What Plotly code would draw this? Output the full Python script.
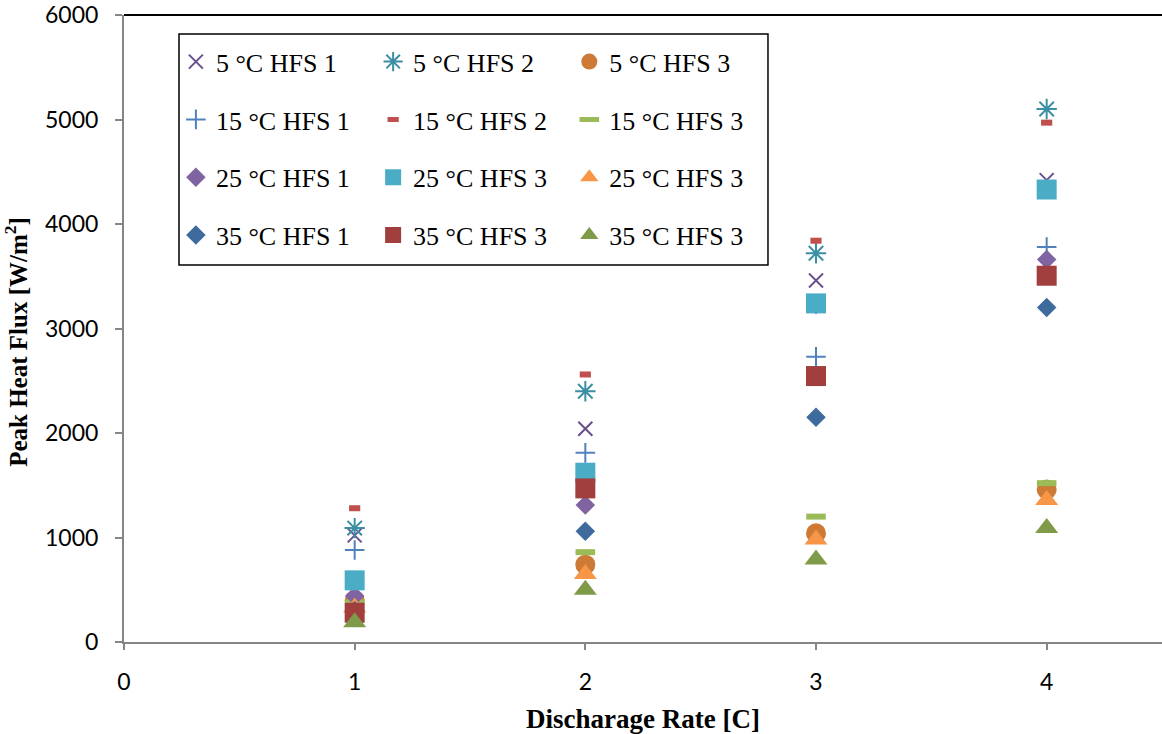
import plotly.graph_objects as go

# Discharge rates [C]
rate = [1, 2, 3, 4]

# Peak heat flux [W/m2] per ambient temperature and heat flux sensor
hfs_5_1 = [1020, 2040, 3460, 4420]
hfs_5_2 = [1090, 2400, 3720, 5100]
hfs_5_3 = [400, 740, 1040, 1460]
hfs_15_1 = [880, 1810, 2730, 3780]
hfs_15_2 = [1280, 2560, 3840, 4970]
hfs_15_3 = [380, 860, 1200, 1520]
hfs_25_1 = [440, 1310, 3230, 3660]
hfs_25_3a = [590, 1620, 3240, 4330]
hfs_25_3b = [330, 650, 980, 1360]
hfs_35_1 = [300, 1060, 2150, 3200]
hfs_35_3a = [280, 1470, 2545, 3505]
hfs_35_3b = [190, 500, 790, 1090]

x_ticks = [0, 1, 2, 3, 4]
y_ticks = [0, 1000, 2000, 3000, 4000, 5000, 6000]

# name, values, symbol, size, fill colour, line colour, line width, legend column
series = [
    ("5 °C HFS 1", hfs_5_1, "x-thin", 14, "#6A4F8E", "#6A4F8E", 2, "legend"),
    ("5 °C HFS 2", hfs_5_2, "asterisk", 17, "#3B8FA5", "#3B8FA5", 2, "legend2"),
    ("5 °C HFS 3", hfs_5_3, "circle", 20, "#CC7A35", "#CC7A35", 0, "legend3"),
    ("15 °C HFS 1", hfs_15_1, "cross-thin", 14, "#4F81BD", "#4F81BD", 2, "legend"),
    ("15 °C HFS 2", hfs_15_2, "line-ew", 8, "#C0504D", "#C0504D", 6, "legend2"),
    ("15 °C HFS 3", hfs_15_3, "line-ew", 14, "#9BBB59", "#9BBB59", 6, "legend3"),
    ("25 °C HFS 1", hfs_25_1, "diamond", 15, "#8064A2", "#8064A2", 0, "legend"),
    ("25 °C HFS 3", hfs_25_3a, "square", 20, "#4BACC6", "#4BACC6", 0, "legend2"),
    ("25 °C HFS 3", hfs_25_3b, "triangle-up", 20, "#F79646", "#F79646", 0, "legend3"),
    ("35 °C HFS 1", hfs_35_1, "diamond", 15, "#3E6A9E", "#3E6A9E", 0, "legend"),
    ("35 °C HFS 3", hfs_35_3a, "square", 20, "#A03F3D", "#A03F3D", 0, "legend2"),
    ("35 °C HFS 3", hfs_35_3b, "triangle-up", 20, "#7F9B49", "#7F9B49", 0, "legend3"),
]

fig = go.Figure()
for i, (name, vals, sym, size, fill, edge, lw, leg) in enumerate(series):
    fig.add_trace(go.Scatter(
        x=rate, y=vals, mode="markers", name=name,
        legend=leg, legendgroup=f"g{i}",
        marker=dict(symbol=sym, size=size, color=fill,
                    line=dict(color=edge, width=lw)),
    ))

legend_font = dict(family="Liberation Serif", size=26, color="black")
legend_common = dict(
    font=legend_font, bgcolor="rgba(0,0,0,0)", borderwidth=0,
    orientation="v", tracegroupgap=21, yanchor="top", xanchor="left",
    y=0.963, itemsizing="trace",
)

title_font = dict(family="Liberation Serif", size=27, color="black")

fig.update_layout(
    width=1162, height=734,
    margin=dict(l=124, r=0, t=15, b=92),
    paper_bgcolor="white", plot_bgcolor="white",
    showlegend=True,
    legend=dict(x=0.050, **legend_common),
    legend2=dict(x=0.2400, **legend_common),
    legend3=dict(x=0.4290, **legend_common),
    xaxis=dict(
        range=[0, 4.5], tickvals=x_ticks, ticktext=[str(v) for v in x_ticks],
        showgrid=False, zeroline=False, showline=True,
        linecolor="#868686", linewidth=2,
        ticks="outside", ticklen=6, tickwidth=2, tickcolor="#868686",
        tickfont=dict(family="Lato", size=23, color="black"),
        ticklabelstandoff=12,
        title=dict(text="<b>Discharage Rate [C]</b>", standoff=18,
                   font=title_font),
    ),
    yaxis=dict(
        range=[0, 6000], tickvals=y_ticks, ticktext=[str(v) for v in y_ticks],
        showgrid=False, zeroline=False, showline=True,
        linecolor="#868686", linewidth=2,
        ticks="outside", ticklen=7, tickwidth=2, tickcolor="#868686",
        tickfont=dict(family="Lato", size=23, color="black"),
        ticklabelstandoff=12,
    ),
    annotations=[
        dict(text="<b>Peak Heat Flux [W/m<sup>2</sup>]</b>", textangle=-90,
             xref="paper", yref="paper", x=-0.1035, y=0.478,
             xanchor="center", yanchor="middle", showarrow=False,
             font=dict(family="Liberation Serif", size=25, color="black")),
    ],
    shapes=[
        # upper border of the plot area
        dict(type="line", xref="paper", yref="paper", x0=0, x1=1, y0=1, y1=1,
             line=dict(color="black", width=2)),
        # frame around the legend block
        dict(type="rect", xref="paper", yref="paper",
             x0=0.0530, x1=0.6204, y0=0.6013, y1=0.9697,
             line=dict(color="black", width=1.5)),
    ],
)

fig.write_html("out.html")
